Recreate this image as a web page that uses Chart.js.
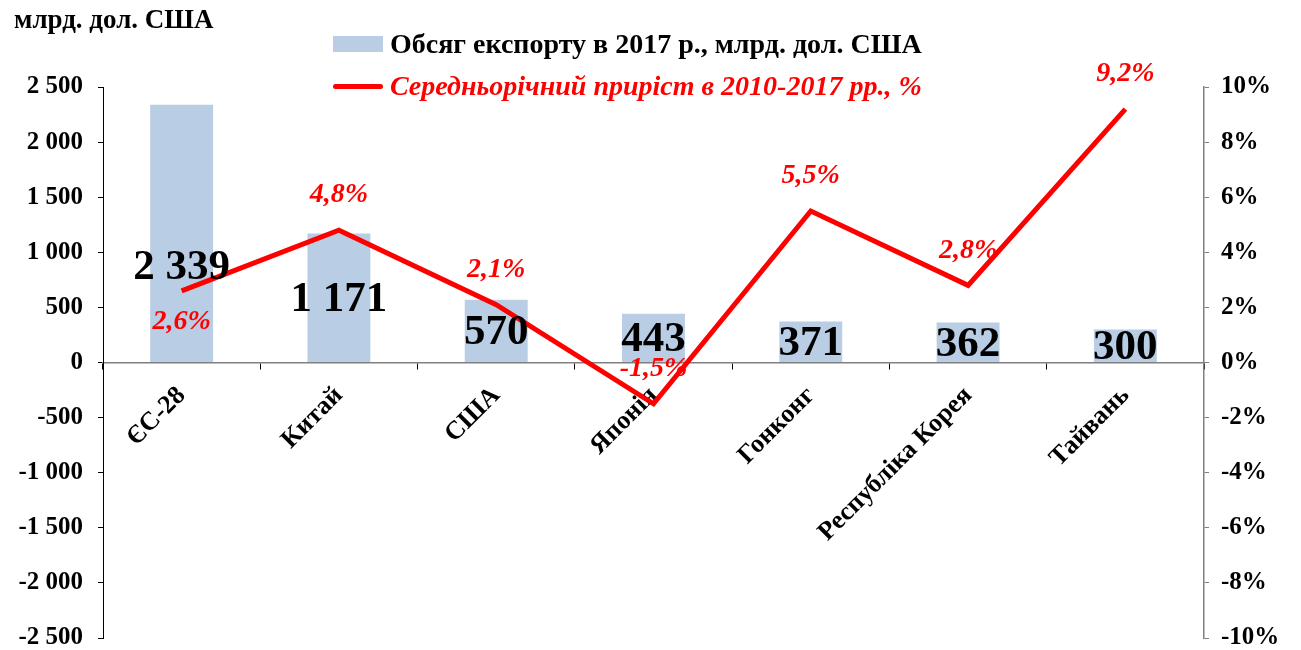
<!DOCTYPE html>
<html>
<head>
<meta charset="utf-8">
<script src="https://cdn.jsdelivr.net/npm/chart.js@4/dist/chart.umd.min.js"></script>
<style>
    html, body { margin: 0; padding: 0; background: #fff; }
    #wrap { position: relative; width: 1301px; height: 650px; }
    #chart { position: absolute; left: 0; top: 0; }
    .txt { position: absolute; font-family: 'Liberation Serif', 'Times New Roman', serif; font-weight: bold; white-space: nowrap; }
    #unit { left: 14px; top: 4px; font-size: 27px; color: #000; }
    .leg { left: 333px; font-size: 28px; display: flex; align-items: center; }
    .leg .sw { display: inline-block; width: 50px; margin-right: 7px; }
    #leg-bar { top: 28px; color: #000; }
    #leg-bar .sw { height: 16px; background: #B9CDE5; }
    #leg-line { top: 70px; color: #FF0000; font-style: italic; }
    #leg-line .sw { height: 5px; background: #FF0000; border-radius: 3px; }
</style>
</head>
<body>
<div id="wrap">
    <canvas id="chart" width="1301" height="650"></canvas>
    <div id="unit" class="txt">млрд. дол. США</div>
    <div id="leg-bar" class="txt leg"><span class="sw"></span>Обсяг експорту в 2017 р., млрд. дол. США</div>
    <div id="leg-line" class="txt leg"><span class="sw"></span>Середньорічний приріст в 2010-2017 рр., %</div>
</div>
<script>
// Дані графіка
const countries = ['ЄС-28', 'Китай', 'США', 'Японія', 'Гонконг', 'Республіка Корея', 'Тайвань'];
const exportVolume = [2339, 1171, 570, 443, 371, 362, 300];
const avgGrowth = [2.6, 4.8, 2.1, -1.5, 5.5, 2.8, 9.2];

const SERIF = "'Liberation Serif', 'Times New Roman', serif";

function fmtThousands(v) {
    const s = Math.abs(v).toString().replace(/\B(?=(\d{3})+(?!\d))/g, ' ');
    return (v < 0 ? '-' : '') + s;
}

function fmtPercent(v) {
    return v.toFixed(1).replace('.', ',') + '%';
}

// Фіксуємо розміри осей, щоб область графіка була як в оригіналі
function fixAxis(width) {
    return scale => {
        scale.width = width;
        scale.paddingTop = 0;
        scale.paddingBottom = 0;
    };
}

// Підписи значень (стовпці та лінія)
const valueLabels = {
    id: 'valueLabels',
    afterDatasetsDraw(chart) {
        const ctx = chart.ctx;
        const yLeft = chart.scales.y;
        ctx.save();
        ctx.textAlign = 'center';
        ctx.textBaseline = 'middle';

        // Обсяг експорту — в середині стовпця
        ctx.font = 'bold 43px ' + SERIF;
        ctx.fillStyle = '#000';
        chart.getDatasetMeta(0).data.forEach((bar, i) => {
            let y = (bar.y + yLeft.getPixelForValue(0)) / 2;
            if (i === 0) y += 32; // як в оригіналі, підпис ЄС зміщено вниз
            ctx.fillText(fmtThousands(exportVolume[i]), bar.x, y + 2);
        });

        // Приріст — над точкою (для ЄС — під точкою)
        ctx.font = 'italic bold 28px ' + SERIF;
        ctx.fillStyle = '#FF0000';
        chart.getDatasetMeta(1).data.forEach((pt, i) => {
            const dy = i === 0 ? 31 : -35;
            ctx.fillText(fmtPercent(avgGrowth[i]), pt.x, pt.y + dy);
        });
        ctx.restore();
    }
};

const ctx = document.getElementById('chart').getContext('2d');
const chart = new Chart(ctx, {
    type: 'bar',
    data: {
        labels: countries,
        datasets: [
            {
                type: 'bar',
                label: 'Обсяг експорту в 2017 р., млрд. дол. США',
                data: exportVolume,
                backgroundColor: '#B9CDE5',
                borderWidth: 0,
                categoryPercentage: 1.0,
                barPercentage: 0.4,
                yAxisID: 'y',
                order: 2
            },
            {
                type: 'line',
                label: 'Середньорічний приріст в 2010-2017 рр., %',
                data: avgGrowth,
                borderColor: '#FF0000',
                borderWidth: 5,
                pointRadius: 0,
                tension: 0,
                fill: false,
                yAxisID: 'y1',
                order: 1
            }
        ]
    },
    options: {
        responsive: false,
        animation: false,
        layout: { padding: { top: 87, bottom: 12, left: 0, right: 0 } },
        plugins: {
            legend: { display: false },
            tooltip: { enabled: false }
        },
        scales: {
            x: {
                position: { y: 0 },
                offset: true,
                grid: {
                    offset: true,
                    drawOnChartArea: false,
                    drawTicks: true,
                    tickLength: 6,
                    color: '#000'
                },
                border: { display: true, color: '#808080', width: 1.5 },
                ticks: {
                    maxRotation: 45,
                    minRotation: 45,
                    autoSkip: false,
                    padding: 12,
                    color: '#000',
                    font: { family: SERIF, size: 26, weight: 'bold' }
                }
            },
            y: {
                position: 'left',
                min: -2500,
                max: 2500,
                afterFit: fixAxis(103),
                ticks: {
                    stepSize: 500,
                    padding: 15,
                    color: '#000',
                    font: { family: SERIF, size: 25, weight: 'bold' },
                    callback: v => fmtThousands(v)
                },
                grid: { drawOnChartArea: false, tickLength: 5, color: '#000' },
                border: { display: true, color: '#000', width: 1 }
            },
            y1: {
                position: 'right',
                min: -10,
                max: 10,
                afterFit: fixAxis(97),
                ticks: {
                    stepSize: 2,
                    padding: 12,
                    color: '#000',
                    font: { family: SERIF, size: 25, weight: 'bold' },
                    callback: v => v + '%'
                },
                grid: { drawOnChartArea: false, tickLength: 5, color: '#808080' },
                border: { display: true, color: '#808080', width: 1.5 }
            }
        }
    },
    plugins: [valueLabels]
});
</script>
</body>
</html>
